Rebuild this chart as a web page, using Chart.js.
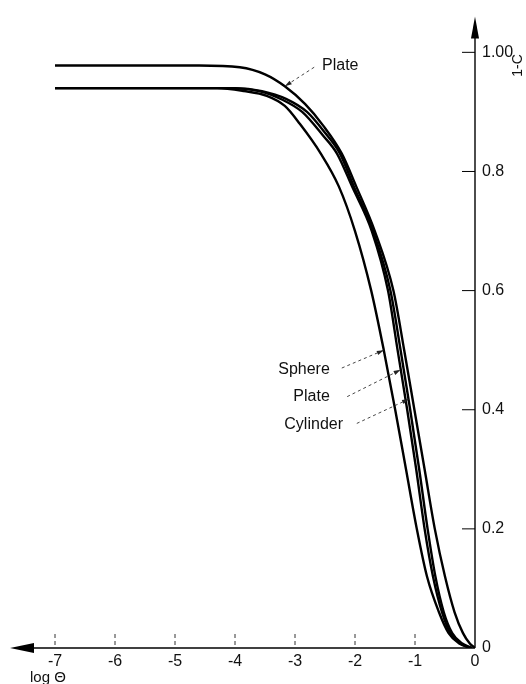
<!DOCTYPE html>
<html>
<head>
<meta charset="utf-8">
<script src="https://cdn.jsdelivr.net/npm/chart.js@4/dist/chart.umd.min.js"></script>
<style>
  html, body { margin: 0; padding: 0; background: #fff; }
  #wrap { width: 526px; height: 684px; }
</style>
</head>
<body>
<div id="wrap"><canvas id="c" width="526" height="684"></canvas></div>
<script>
// Axis ticks
const xTickValues = [-7, -6, -5, -4, -3, -2, -1, 0];
const yTickValues = [0, 0.2, 0.4, 0.6, 0.8, 1.0];
const yTickLabels = ['0', '0.2', '0.4', '0.6', '0.8', '1.00'];

// 1-C against log Θ for each body shape
const sphereX = [-7, -5.5, -4.8, -4.3, -3.85, -3.47, -3.17, -2.92, -2.57, -2.27, -2.0, -1.73, -1.52, -1.33, -1.15, -0.97, -0.8, -0.6, -0.44, -0.27, -0.08];
const sphereY = [0.94, 0.94, 0.94, 0.94, 0.935, 0.927, 0.91, 0.88, 0.83, 0.775, 0.7, 0.6, 0.5, 0.4, 0.3, 0.2, 0.12, 0.06, 0.025, 0.008, 0];

const plateLowX = [-7, -5.5, -4.8, -4.1, -3.6, -3.2, -2.88, -2.53, -2.3, -2.05, -1.72, -1.45, -1.29, -1.13, -0.98, -0.84, -0.7, -0.55, -0.41, -0.25, -0.07];
const plateLowY = [0.94, 0.94, 0.94, 0.94, 0.935, 0.92, 0.9, 0.86, 0.83, 0.775, 0.7, 0.6, 0.5, 0.4, 0.3, 0.2, 0.12, 0.06, 0.025, 0.008, 0];

const cylinderX = [-7, -5.5, -4.7, -4.0, -3.55, -3.15, -2.8, -2.5, -2.25, -2.02, -1.7, -1.41, -1.24, -1.08, -0.93, -0.79, -0.66, -0.52, -0.38, -0.22, -0.05];
const cylinderY = [0.94, 0.94, 0.94, 0.94, 0.935, 0.922, 0.9, 0.865, 0.83, 0.775, 0.7, 0.6, 0.5, 0.4, 0.3, 0.2, 0.12, 0.06, 0.025, 0.008, 0];

const plateHighX = [-7, -5.8, -5.1, -4.6, -3.92, -3.5, -3.17, -2.83, -2.53, -2.22, -1.98, -1.67, -1.36, -1.18, -1.01, -0.84, -0.67, -0.5, -0.34, -0.2, -0.09, 0];
const plateHighY = [0.978, 0.978, 0.978, 0.978, 0.975, 0.963, 0.943, 0.913, 0.877, 0.83, 0.775, 0.7, 0.6, 0.5, 0.4, 0.3, 0.2, 0.12, 0.06, 0.025, 0.008, 0];

// Curve labels: text anchor and the point the leader arrow touches
const curveLabels = [
  { text: 'Plate',    tx: -2.55, ty: 0.978, align: 'left',  lx: -2.68, ly: 0.975, px: -3.17, py: 0.943 },
  { text: 'Sphere',   tx: -2.42, ty: 0.468, align: 'right', lx: -2.22, ly: 0.470, px: -1.52, py: 0.500 },
  { text: 'Plate',    tx: -2.42, ty: 0.422, align: 'right', lx: -2.13, ly: 0.422, px: -1.24, py: 0.467 },
  { text: 'Cylinder', tx: -2.20, ty: 0.375, align: 'right', lx: -1.97, ly: 0.377, px: -1.10, py: 0.418 }
];

const FONT = '"Liberation Sans", Arial, sans-serif';

function pts(xs, ys) { return xs.map((x, i) => ({ x: x, y: ys[i] })); }

function curve(label, xs, ys) {
  return {
    label: label,
    data: pts(xs, ys),
    borderColor: '#000',
    borderWidth: 2.4,
    pointRadius: 0,
    fill: false,
    cubicInterpolationMode: 'monotone'
  };
}

function arrowHead(ctx, fx, fy, tx, ty, len, half) {
  const ang = Math.atan2(ty - fy, tx - fx);
  ctx.beginPath();
  ctx.moveTo(tx, ty);
  ctx.lineTo(tx - len * Math.cos(ang) + half * Math.sin(ang), ty - len * Math.sin(ang) - half * Math.cos(ang));
  ctx.lineTo(tx - len * Math.cos(ang) - half * Math.sin(ang), ty - len * Math.sin(ang) + half * Math.cos(ang));
  ctx.closePath();
  ctx.fill();
}

const frame = {
  id: 'frame',
  afterDatasetsDraw(chart) {
    const { ctx, chartArea: a, scales: { x, y } } = chart;
    const x0 = x.getPixelForValue(0);
    const y0 = y.getPixelForValue(0);
    ctx.save();
    ctx.strokeStyle = '#000';
    ctx.fillStyle = '#000';

    // horizontal axis, arrow pointing left
    ctx.lineWidth = 1.6;
    ctx.beginPath(); ctx.moveTo(a.left + 20, y0); ctx.lineTo(x0, y0); ctx.stroke();
    ctx.beginPath();
    ctx.moveTo(a.left, y0); ctx.lineTo(a.left + 24, y0 - 5); ctx.lineTo(a.left + 24, y0 + 5);
    ctx.closePath(); ctx.fill();

    // vertical axis, arrow pointing up
    ctx.lineWidth = 1.4;
    ctx.beginPath(); ctx.moveTo(x0, y0); ctx.lineTo(x0, a.top + 18); ctx.stroke();
    ctx.beginPath();
    ctx.moveTo(x0, a.top); ctx.lineTo(x0 - 4, a.top + 22); ctx.lineTo(x0 + 4, a.top + 22);
    ctx.closePath(); ctx.fill();

    // tick marks on the horizontal axis (short dashed, pointing up)
    ctx.lineWidth = 1;
    ctx.strokeStyle = '#333';
    ctx.setLineDash([4, 3]);
    xTickValues.forEach(v => {
      if (v === 0) return;
      const px = x.getPixelForValue(v);
      ctx.beginPath(); ctx.moveTo(px, y0 - 3); ctx.lineTo(px, y0 - 14); ctx.stroke();
    });
    ctx.setLineDash([]);

    // tick marks on the vertical axis (pointing into the plot)
    ctx.strokeStyle = '#000';
    yTickValues.forEach(v => {
      if (v === 0) return;
      const py = y.getPixelForValue(v);
      ctx.beginPath(); ctx.moveTo(x0 - 13, py); ctx.lineTo(x0, py); ctx.stroke();
    });

    // axis titles
    ctx.fillStyle = '#111';
    ctx.font = '15px ' + FONT;
    ctx.textAlign = 'left';
    ctx.textBaseline = 'middle';
    ctx.fillText('log Θ', x.getPixelForValue(-7) - 25, y0 + 30);

    ctx.save();
    ctx.translate(x0 + 43, y.getPixelForValue(0.978));
    ctx.rotate(-Math.PI / 2);
    ctx.font = '14px ' + FONT;
    ctx.textAlign = 'center';
    ctx.fillText('1-C', 0, 0);
    ctx.restore();

    // curve labels with dashed leader arrows
    ctx.font = '16px ' + FONT;
    curveLabels.forEach(c => {
      ctx.fillStyle = '#111';
      ctx.textAlign = c.align;
      ctx.textBaseline = 'middle';
      ctx.fillText(c.text, x.getPixelForValue(c.tx), y.getPixelForValue(c.ty));
      const lx = x.getPixelForValue(c.lx), ly = y.getPixelForValue(c.ly);
      const px = x.getPixelForValue(c.px), py = y.getPixelForValue(c.py);
      ctx.strokeStyle = '#333';
      ctx.lineWidth = 0.9;
      ctx.setLineDash([3, 3]);
      ctx.beginPath(); ctx.moveTo(lx, ly); ctx.lineTo(px, py); ctx.stroke();
      ctx.setLineDash([]);
      ctx.fillStyle = '#222';
      arrowHead(ctx, lx, ly, px, py, 7, 2.2);
    });
    ctx.restore();
  }
};

new Chart(document.getElementById('c'), {
  type: 'line',
  data: {
    datasets: [
      curve('Sphere', sphereX, sphereY),
      curve('Plate', plateLowX, plateLowY),
      curve('Cylinder', cylinderX, cylinderY),
      curve('Plate', plateHighX, plateHighY)
    ]
  },
  options: {
    responsive: false,
    animation: false,
    devicePixelRatio: 1,
    layout: { padding: { left: 10, top: 12, right: 0, bottom: 0 } },
    plugins: { legend: { display: false }, tooltip: { enabled: false } },
    scales: {
      x: {
        type: 'linear',
        min: -7.75,
        max: 0,
        afterBuildTicks: s => { s.ticks = xTickValues.map(v => ({ value: v })); },
        afterFit: s => { s.height = 36; },
        grid: { display: false, drawTicks: false },
        border: { display: false },
        ticks: {
          padding: 4,
          color: '#111',
          font: { family: FONT, size: 16 },
          maxRotation: 0,
          callback: v => String(v)
        }
      },
      y: {
        type: 'linear',
        position: 'right',
        min: 0,
        max: 1.06,
        afterBuildTicks: s => { s.ticks = yTickValues.map(v => ({ value: v })); },
        afterFit: s => { s.width = 51; },
        grid: { display: false, drawTicks: false },
        border: { display: false },
        ticks: {
          padding: 7,
          color: '#111',
          font: { family: FONT, size: 16 },
          callback: v => yTickLabels[yTickValues.findIndex(t => Math.abs(t - v) < 1e-9)]
        }
      }
    }
  },
  plugins: [frame]
});
</script>
</body>
</html>
